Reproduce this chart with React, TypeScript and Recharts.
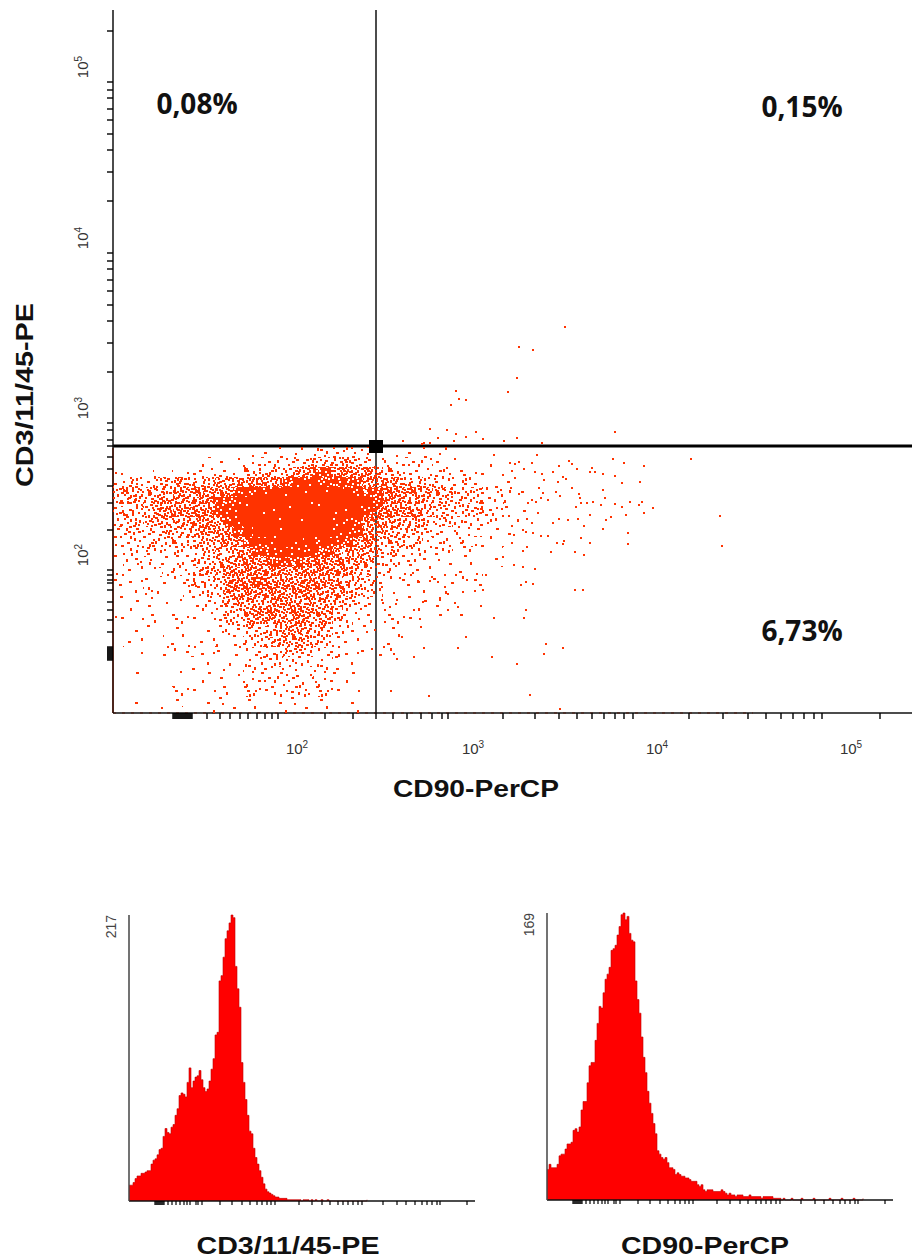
import {
  Area,
  AreaChart,
  ReferenceDot,
  ReferenceLine,
  Scatter,
  ScatterChart,
  XAxis,
  YAxis,
} from "recharts";

// dot plot values are display channels (0 = lower/left edge of the plot)
const dotXDomain = [0, 799];
const dotYDomain = [0, 703];
const gateX = 263;
const gateY = 267;

const xTicks = [
  60, 61, 62, 63, 64, 65, 66, 67, 68, 69, 70, 71, 72, 73, 74, 75, 76, 77, 78, 79,
  94, 107, 117, 127, 135, 144, 152, 159, 165, 212, 240, 263, 280, 294, 308, 319, 329, 335,
  390, 422, 446, 464, 479, 491, 502, 511, 520, 576, 610, 635, 653, 668, 680, 691, 701, 709, 767,
];
const xDecades: Record<number, string> = { 165: "2", 335: "3", 520: "4", 709: "5" };
const xDecadeLabelShift: Record<number, number> = { 165: 19, 335: 25, 520: 24, 709: 29 };

const yTicks = [
  682, 631, 623, 615, 604, 593, 579, 563, 541, 512, 460, 452, 444, 433, 422, 408, 392, 370, 341,
  290, 283, 273, 267, 256, 244, 227, 210, 183, 143, 138, 133, 130, 123, 111, 103, 93, 81,
  53, 54, 55, 56, 57, 58, 59, 60, 61, 62, 63, 64, 65, 66,
];
const yDecades: Record<number, string> = { 631: "5", 460: "4", 290: "3", 143: "2" };

const quadrantLabels = [
  { text: "0,08%", x: 84, y: 609 },
  { text: "0,15%", x: 689, y: 606 },
  { text: "6,73%", x: 689, y: 82 },
];

// event density, 10 channel cells, top row first, 0 = empty, 9 = solid
const densityRows = [
  "000000000000111111112222221111111100000000",
  "100000001111122222334444432222221111110000",
  "100011012221233334467766665332222211111100",
  "333234444455556667888777765554433222211110",
  "344444555666788899999998877666554433322211",
  "344455556677899999999999987665544433322211",
  "233455666678899999999999976666544333322211",
  "333444455667899999999988765554433322221110",
  "233334445566789999999988765544332222211110",
  "223333334455678899988877664443322222111100",
  "222322233444567788887765554333222211111000",
  "122212223345566677766655543322211111111000",
  "111121224456666666666665442211111111100000",
  "111111223346667666666654432211111111100000",
  "111221122335566666665554432111111111000000",
  "111111112234555556555553321111111110000000",
  "111111111223456656665542211111111110000000",
  "111111111123344555654432110111100000000000",
  "111001111112233345544322110110000000000000",
  "011011111121223445543321111100000000000000",
  "001011111111122234432221111100000000000000",
  "000000100111122232222211110000000000000000",
  "001000111111122222212221100000000000000000",
  "000001111111122222222211100000000000000000",
  "000000111111122222222221101000000000000000",
  "011001100111111111111111101000000000000000",
  "000010000010111011011100100000000000000000",
];

// single events outside the dense cloud
const singleEvents = [
  [452, 386], [406, 366], [420, 363], [404, 335], [395, 321], [343, 322], [346, 314], [353, 313],
  [338, 308], [317, 284], [334, 283], [343, 279], [363, 281], [502, 281], [353, 276], [325, 275],
  [370, 274], [391, 272], [404, 275], [290, 272], [317, 270], [341, 272], [429, 270], [311, 270],
  [309, 269], [424, 258], [381, 258], [456, 252], [459, 249], [500, 254], [578, 254], [511, 250],
  [531, 247], [446, 247], [464, 244], [440, 241], [422, 241], [477, 241], [482, 241], [479, 245],
  [490, 239], [502, 237], [429, 239], [411, 244], [419, 250], [406, 251], [397, 250], [402, 249],
  [450, 236], [453, 234], [431, 233], [445, 231], [509, 230], [527, 231], [459, 225], [426, 225],
  [490, 223], [492, 215], [430, 220], [443, 221], [447, 217], [466, 219], [467, 215], [468, 210],
  [428, 215], [435, 213], [423, 211], [406, 219], [474, 210], [480, 211], [488, 208], [463, 206],
  [502, 209], [509, 206], [517, 211], [529, 211], [526, 208], [540, 205], [531, 200], [513, 198],
  [498, 196], [477, 198], [607, 197], [609, 167], [493, 193], [490, 184], [465, 194], [455, 193],
  [446, 194], [440, 190], [419, 190], [414, 194], [425, 200], [471, 187], [515, 180], [515, 169],
  [477, 170], [468, 175], [451, 172], [450, 169], [444, 170], [435, 177], [428, 177], [420, 180],
  [413, 181], [410, 183], [401, 178], [462, 161], [438, 161], [471, 158], [422, 144], [410, 146],
  [401, 148], [390, 156], [414, 166], [410, 162], [413, 131], [408, 128], [420, 129], [462, 123],
  [470, 123], [373, 138], [370, 123], [362, 122], [350, 121], [368, 107], [413, 103], [411, 95],
  [381, 95], [433, 69], [431, 59], [450, 65], [404, 49], [379, 56], [353, 76], [345, 65], [311, 65],
  [301, 56], [289, 76], [281, 59], [284, 54], [278, 22], [316, 17], [417, 18], [447, 4], [272, 91],
  [308, 86], [307, 94], [259, 64], [262, 83], [335, 103], [345, 106], [327, 113], [310, 111],
  [301, 103], [277, 106], [269, 113], [272, 103], [283, 109], [296, 116], [269, 126], [260, 130],
  [281, 120], [305, 132], [332, 126], [332, 138], [354, 133], [335, 119], [325, 131], [319, 136],
  [300, 140], [287, 135],
];

// histogram counts, one value per 2 channel bin
const cd3Counts = [
  12, 12, 14, 17, 19, 19, 21, 21, 22, 23,
  23, 28, 31, 32, 35, 39, 40, 49, 55, 52,
  51, 56, 58, 65, 70, 80, 82, 81, 79, 90,
  101, 86, 91, 94, 95, 99, 92, 86, 83, 85,
  91, 100, 108, 126, 128, 167, 171, 185, 199, 205,
  211, 217, 215, 178, 161, 147, 105, 90, 77, 65,
  53, 51, 40, 33, 28, 23, 18, 13, 9, 7,
  6, 5, 4, 3, 3, 2, 2, 2, 2, 1,
  1, 1, 1, 1, 1, 1, 0, 1, 1, 1,
  0, 1, 0, 1, 0, 0, 1, 0, 0, 1,
  0, 0, 0, 0, 0, 0, 0, 0, 0, 0,
  0, 0, 0, 0, 0, 0, 0, 0, 0, 1,
];

const cd90Counts = [
  18, 21, 19, 19, 19, 21, 26, 27, 27, 30,
  33, 33, 34, 41, 42, 40, 43, 53, 58, 58,
  69, 79, 81, 81, 94, 104, 114, 113, 122, 130,
  133, 137, 147, 148, 150, 156, 161, 168, 169, 165,
  167, 157, 153, 152, 129, 118, 110, 96, 84, 75,
  64, 57, 51, 45, 39, 29, 27, 25, 24, 25,
  22, 19, 19, 18, 15, 16, 15, 14, 14, 13,
  13, 12, 11, 11, 11, 9, 8, 9, 6, 5,
  6, 6, 6, 5, 5, 5, 5, 6, 5, 4,
  3, 4, 3, 3, 2, 3, 3, 3, 2, 2,
  2, 3, 2, 2, 2, 2, 2, 1, 2, 2,
  2, 2, 2, 1, 1, 1, 1, 0, 1, 0,
  0, 0, 1, 0, 0, 0, 0, 1, 0, 0,
  0, 0, 0, 1, 0, 0, 0, 0, 0, 0,
  0, 1, 0, 0, 0, 0, 0, 1, 0, 0,
  0, 0, 0, 1, 0, 0, 0, 0, 1,
];

const histTicks = [
  26, 27, 28, 29, 30, 31, 32, 33, 34, 35,
  39, 43, 47, 51, 55, 58, 61, 67, 69, 73, 91, 103, 113, 121, 128, 133, 138, 142, 146,
  170, 183, 193, 201, 209, 214, 219, 224, 229, 233, 254, 268, 277, 286, 293, 298, 303, 308, 311, 338,
];

const DOT_RED = "#ff3300";
const HIST_RED = "#ff0000";
const SANS = '"Liberation Sans", Arial, sans-serif';

// texture for the density cells, repeated over 3x3 sub tiles with a shifted order to hide the lattice
const speckle = [
  [1, 2], [13, 15], [7, 21], [19, 6], [4, 11], [16, 0], [10, 8], [22, 18],
  [1, 17], [13, 4], [19, 12], [7, 14], [10, 20], [22, 2], [4, 5], [16, 22],
  [0, 8], [8, 3], [14, 10], [20, 21], [3, 19], [11, 13], [17, 17], [23, 8],
  [6, 0], [12, 23], [18, 3], [5, 16], [9, 11], [15, 6], [21, 14], [2, 22],
  [8, 17], [14, 19], [20, 9], [1, 12], [11, 1], [17, 11], [23, 22], [6, 7],
  [3, 1], [9, 5], [15, 14], [21, 4], [0, 20], [12, 9], [18, 20], [5, 10],
  [10, 15], [16, 3], [22, 11], [2, 6], [7, 18], [13, 21], [19, 16], [4, 14],
  [9, 22], [15, 18], [21, 0], [0, 4], [12, 6], [18, 8], [6, 12], [3, 9],
];
const redDots: Record<number, number> = { 1: 4, 2: 12, 3: 24, 4: 38, 5: 52, 6: 64 };
const whiteDots: Record<number, number> = { 7: 32, 8: 12, 9: 2 };
const subTiles = [
  [0, 0, 0], [1, 0, 23], [2, 0, 41],
  [0, 1, 11], [1, 1, 52], [2, 1, 5],
  [0, 2, 37], [1, 2, 17], [2, 2, 29],
];

const cells = densityRows.flatMap((row, r) =>
  row.split("").flatMap((c, col) =>
    c === "0" ? [] : [{ x: col * 10 + 5, y: gateY - 1 - (r * 10 + 5), level: Number(c) }]
  )
);
const events = singleEvents.map(([x, y]) => ({ x, y }));
const cd3Data = cd3Counts.map((count, i) => ({ channel: i * 2, count }));
const cd90Data = cd90Counts.map((count, i) => ({ channel: i * 2, count }));

const SpeckleDefs = () => (
  <defs>
    {[1, 2, 3, 4, 5, 6, 7, 8, 9].map((level) => {
      const isRed = level <= 6;
      const n = isRed ? redDots[level] : whiteDots[level];
      return (
        <pattern key={level} id={`sp${level}`} width={72} height={72} patternUnits="userSpaceOnUse">
          {!isRed && <rect width={72} height={72} fill={DOT_RED} />}
          {subTiles.map(([col, row, shift]) =>
            speckle
              .map((_, i) => speckle[(i + shift) % speckle.length])
              .slice(0, n)
              .map(([x, y], i) => (
                <rect
                  key={`${col}-${row}-${i}`}
                  x={col * 24 + x}
                  y={row * 24 + y}
                  width={isRed && i % 3 === 0 ? 3 : 2}
                  height={isRed && i % 3 === 1 ? 3 : 2}
                  fill={isRed ? DOT_RED : "#fff"}
                  shapeRendering="crispEdges"
                />
              ))
          )}
        </pattern>
      );
    })}
    <clipPath id="cloudClip">
      <rect x={113} y={447} width={430} height={266} />
    </clipPath>
  </defs>
);

const DensityCell = (props: any) => {
  const level = props.payload?.level ?? props.level;
  return (
    <rect
      x={props.cx - 5}
      y={props.cy - 5}
      width={10}
      height={10}
      fill={`url(#sp${level})`}
      clipPath="url(#cloudClip)"
      shapeRendering="crispEdges"
    />
  );
};

const EventDot = (props: any) => (
  <rect x={props.cx - 1} y={props.cy - 1} width={2} height={2} fill={DOT_RED} />
);

const DotXTick = ({ x, y, payload }: any) => {
  const sup = xDecades[payload.value];
  if (!sup) return <g />;
  return (
    <text
      x={x + xDecadeLabelShift[payload.value]}
      y={y + 33}
      textAnchor="middle"
      fontFamily={SANS}
      fontSize={15}
      fill="#333"
    >
      10
      <tspan dy={-6} fontSize={10}>{sup}</tspan>
    </text>
  );
};

const DotYTick = ({ x, y, payload }: any) => {
  const sup = yDecades[payload.value];
  if (!sup) return <g />;
  const tx = x - 17;
  const ty = y - 15;
  return (
    <text
      x={tx}
      y={ty}
      textAnchor="middle"
      transform={`rotate(-90 ${tx} ${ty})`}
      fontFamily={SANS}
      fontSize={15}
      fill="#333"
    >
      10
      <tspan dy={-6} fontSize={10}>{sup}</tspan>
    </text>
  );
};

const HistYTick = ({ x, y, payload }: any) => (
  <text
    x={x - 5}
    y={y}
    textAnchor="end"
    transform={`rotate(-90 ${x - 5} ${y})`}
    fontFamily={SANS}
    fontSize={14}
    fill="#444"
  >
    {payload.value}
  </text>
);

const NoTickLabel = () => <g />;

const Histogram = ({ data, max, left, top, plotHeight }: any) => (
  <div style={{ position: "absolute", left, top }}>
    <AreaChart
      width={385}
      height={plotHeight + 30}
      data={data}
      margin={{ top: 10, right: 0, bottom: 0, left: 0 }}
    >
      <XAxis
        dataKey="channel"
        type="number"
        domain={[0, 346]}
        ticks={histTicks}
        interval={0}
        height={20}
        tick={<NoTickLabel />}
        tickSize={4}
        tickLine={{ stroke: "#000", strokeWidth: 1.2 }}
        axisLine={{ stroke: "#111", strokeWidth: 1.5 }}
      />
      <YAxis
        type="number"
        domain={[0, max]}
        ticks={[max]}
        width={39}
        tick={<HistYTick />}
        tickLine={false}
        axisLine={{ stroke: "#444", strokeWidth: 1.5 }}
      />
      <Area
        dataKey="count"
        type="stepAfter"
        fill={HIST_RED}
        fillOpacity={1}
        stroke="#c00000"
        strokeWidth={0.6}
        dot={false}
        activeDot={false}
        isAnimationActive={false}
      />
    </AreaChart>
  </div>
);

const Title = ({ text, x, y, length, rotate }: any) => (
  <text
    x={x}
    y={y}
    textAnchor="middle"
    textLength={length}
    lengthAdjust="spacingAndGlyphs"
    transform={rotate ? `rotate(${rotate} ${x} ${y})` : undefined}
    fontFamily={SANS}
    fontWeight="bold"
    fontSize={24}
    fill="#111"
  >
    {text}
  </text>
);

export default function App() {
  return (
    <div style={{ position: "absolute", left: 0, top: 0, width: 912, height: 1260, background: "#fff", overflow: "hidden" }}>
      <ScatterChart width={912} height={800} margin={{ top: 10, right: 0, bottom: 0, left: 0 }}>
        <SpeckleDefs />
        <XAxis
          dataKey="x"
          type="number"
          domain={dotXDomain}
          ticks={xTicks}
          interval={0}
          height={87}
          tick={<DotXTick />}
          tickSize={6}
          tickLine={{ stroke: "#000", strokeWidth: 1.4 }}
          axisLine={{ stroke: "#111", strokeWidth: 1.5 }}
        />
        <YAxis
          dataKey="y"
          type="number"
          domain={dotYDomain}
          ticks={yTicks}
          interval={0}
          width={113}
          tick={<DotYTick />}
          tickSize={6}
          tickLine={{ stroke: "#000", strokeWidth: 1.4 }}
          axisLine={{ stroke: "#111", strokeWidth: 1.5 }}
        />
        <Scatter data={cells} shape={<DensityCell />} isAnimationActive={false} />
        <Scatter data={events} shape={<EventDot />} isAnimationActive={false} />
        <ReferenceLine segment={[{ x: 0, y: 0 }, { x: 0, y: gateY - 2 }]} stroke={DOT_RED} strokeWidth={1.5} />
        <ReferenceLine segment={[{ x: 0, y: 0 }, { x: 640, y: 0 }]} stroke={DOT_RED} strokeWidth={1} strokeDasharray="3 6" />
        <ReferenceLine x={gateX} stroke="#111" strokeWidth={1.5} />
        <ReferenceLine y={gateY} stroke="#000" strokeWidth={3} />
        <ReferenceDot
          x={gateX}
          y={gateY}
          r={7}
          shape={(p: any) => <rect x={p.cx - 7} y={p.cy - 6} width={14} height={13} fill="#000" />}
        />
        {quadrantLabels.map((q) => (
          <ReferenceDot
            key={q.text}
            x={q.x}
            y={q.y}
            r={0}
            fill="none"
            stroke="none"
            label={{
              value: q.text,
              position: "center",
              fontFamily: '"Open Sans", sans-serif',
              fontWeight: 700,
              fontSize: 28,
              fill: "#111",
            }}
          />
        ))}
      </ScatterChart>

      <Histogram data={cd3Data} max={217} left={90} top={905} plotHeight={286} />
      <Histogram data={cd90Data} max={169} left={508} top={903} plotHeight={287} />

      <svg width={912} height={1260} style={{ position: "absolute", left: 0, top: 0, pointerEvents: "none" }}>
        <Title text="CD3/11/45-PE" x={33} y={395} length={184} rotate={-90} />
        <Title text="CD90-PerCP" x={476} y={797} length={166} />
        <Title text="CD3/11/45-PE" x={288} y={1254} length={183} />
        <Title text="CD90-PerCP" x={705} y={1254} length={168} />
      </svg>
    </div>
  );
}
